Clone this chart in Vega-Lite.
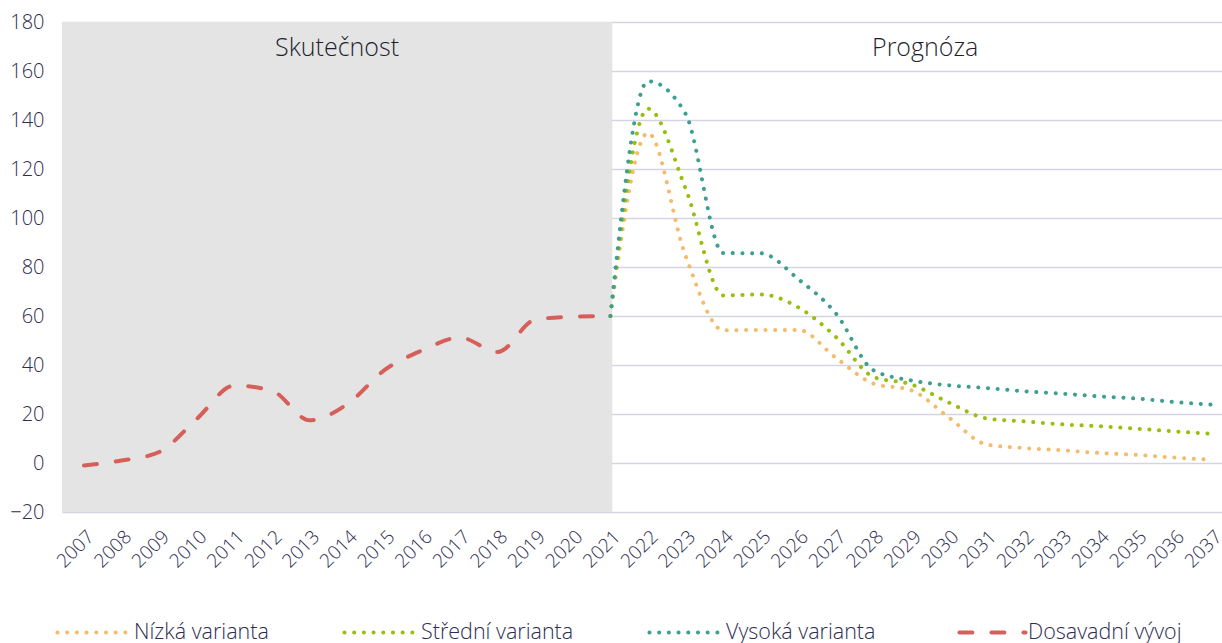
{
  "$schema": "https://vega.github.io/schema/vega-lite/v6.json",
  "width": 1160,
  "height": 490,
  "autosize": {"type": "none"},
  "padding": {"left": 62, "top": 22, "right": 0, "bottom": 131},
  "background": "#ffffff",
  "config": {
    "view": {"stroke": null},
    "font": "Open Sans",
    "axis": {"labelFont": "Open Sans", "labelColor": "#2E2D50", "labelFontWeight": 300, "ticks": false, "domain": false},
    "axisX": {"labelAngle": -45, "labelFontSize": 19, "labelPadding": 15, "grid": false, "labelOverlap": false, "labelFlush": false, "labelBound": false, "tickCount": 60},
    "axisY": {"labelFontSize": 20, "labelPadding": 18, "grid": true, "gridColor": "#D4D4E5", "gridWidth": 1.5, "zindex": 1, "labelOverlap": false, "tickCount": 20}
  },
  "datasets": {
    "series": [
      {"year": 2007, "series": "Dosavadní vývoj", "value": -1},
      {"year": 2008, "series": "Dosavadní vývoj", "value": 1},
      {"year": 2009, "series": "Dosavadní vývoj", "value": 4.5},
      {"year": 2010, "series": "Dosavadní vývoj", "value": 18},
      {"year": 2011, "series": "Dosavadní vývoj", "value": 31.6},
      {"year": 2012, "series": "Dosavadní vývoj", "value": 29.5},
      {"year": 2013, "series": "Dosavadní vývoj", "value": 17.4},
      {"year": 2014, "series": "Dosavadní vývoj", "value": 24},
      {"year": 2015, "series": "Dosavadní vývoj", "value": 38},
      {"year": 2016, "series": "Dosavadní vývoj", "value": 46},
      {"year": 2017, "series": "Dosavadní vývoj", "value": 51.2},
      {"year": 2018, "series": "Dosavadní vývoj", "value": 45.3},
      {"year": 2019, "series": "Dosavadní vývoj", "value": 58.5},
      {"year": 2020, "series": "Dosavadní vývoj", "value": 59.7},
      {"year": 2021, "series": "Dosavadní vývoj", "value": 60},

      {"year": 2021, "series": "Nízká varianta", "value": 60},
      {"year": 2022, "series": "Nízká varianta", "value": 134.7},
      {"year": 2023, "series": "Nízká varianta", "value": 84.5},
      {"year": 2024, "series": "Nízká varianta", "value": 54.2},
      {"year": 2025, "series": "Nízká varianta", "value": 54.3},
      {"year": 2026, "series": "Nízká varianta", "value": 54.3},
      {"year": 2027, "series": "Nízká varianta", "value": 42.9},
      {"year": 2028, "series": "Nízká varianta", "value": 32.4},
      {"year": 2029, "series": "Nízká varianta", "value": 29.7},
      {"year": 2030, "series": "Nízká varianta", "value": 18.6},
      {"year": 2031, "series": "Nízká varianta", "value": 7.6},
      {"year": 2032, "series": "Nízká varianta", "value": 6.1},
      {"year": 2033, "series": "Nízká varianta", "value": 5.2},
      {"year": 2034, "series": "Nízká varianta", "value": 4.1},
      {"year": 2035, "series": "Nízká varianta", "value": 3.3},
      {"year": 2036, "series": "Nízká varianta", "value": 2.2},
      {"year": 2037, "series": "Nízká varianta", "value": 1.3},

      {"year": 2021, "series": "Střední varianta", "value": 60},
      {"year": 2022, "series": "Střední varianta", "value": 144.6},
      {"year": 2023, "series": "Střední varianta", "value": 112},
      {"year": 2024, "series": "Střední varianta", "value": 68.4},
      {"year": 2025, "series": "Střední varianta", "value": 68.8},
      {"year": 2026, "series": "Střední varianta", "value": 63.5},
      {"year": 2027, "series": "Střední varianta", "value": 51.4},
      {"year": 2028, "series": "Střední varianta", "value": 35.1},
      {"year": 2029, "series": "Střední varianta", "value": 32.1},
      {"year": 2030, "series": "Střední varianta", "value": 24.7},
      {"year": 2031, "series": "Střední varianta", "value": 18.2},
      {"year": 2032, "series": "Střední varianta", "value": 17},
      {"year": 2033, "series": "Střední varianta", "value": 15.8},
      {"year": 2034, "series": "Střední varianta", "value": 15},
      {"year": 2035, "series": "Střední varianta", "value": 14},
      {"year": 2036, "series": "Střední varianta", "value": 12.9},
      {"year": 2037, "series": "Střední varianta", "value": 11.9},

      {"year": 2021, "series": "Vysoká varianta", "value": 60},
      {"year": 2022, "series": "Vysoká varianta", "value": 155.8},
      {"year": 2023, "series": "Vysoká varianta", "value": 142.5},
      {"year": 2024, "series": "Vysoká varianta", "value": 85.7},
      {"year": 2025, "series": "Vysoká varianta", "value": 85.6},
      {"year": 2026, "series": "Vysoká varianta", "value": 75},
      {"year": 2027, "series": "Vysoká varianta", "value": 61},
      {"year": 2028, "series": "Vysoká varianta", "value": 37.8},
      {"year": 2029, "series": "Vysoká varianta", "value": 33.7},
      {"year": 2030, "series": "Vysoká varianta", "value": 31.7},
      {"year": 2031, "series": "Vysoká varianta", "value": 30.6},
      {"year": 2032, "series": "Vysoká varianta", "value": 29.3},
      {"year": 2033, "series": "Vysoká varianta", "value": 28.3},
      {"year": 2034, "series": "Vysoká varianta", "value": 27.2},
      {"year": 2035, "series": "Vysoká varianta", "value": 26.3},
      {"year": 2036, "series": "Vysoká varianta", "value": 24.9},
      {"year": 2037, "series": "Vysoká varianta", "value": 23.8}
    ],
    "periods": [
      {"start": 2006.415, "end": 2021.05}
    ],
    "labels": [
      {"year": 2013.73, "value": 169.3, "label": "Skutečnost"},
      {"year": 2029.37, "value": 169.3, "label": "Prognóza"}
    ]
  },
  "layer": [
    {
      "data": {"name": "periods"},
      "mark": {"type": "rect", "color": "#E4E4E4"},
      "encoding": {
        "x": {"field": "start", "type": "quantitative", "scale": {"domain": [2006.415, 2037.266], "nice": false, "zero": false}, "axis": {"title": null}},
        "x2": {"field": "end"}
      }
    },
    {
      "data": {"name": "series"},
      "mark": {"type": "line", "strokeWidth": 4, "strokeCap": "round", "interpolate": "monotone"},
      "encoding": {
        "x": {
          "field": "year", "type": "quantitative",
          "scale": {"domain": [2006.415, 2037.266], "nice": false, "zero": false},
          "axis": {
            "title": null, "format": "d", "tickCount": 60,
            "values": [2007,2008,2009,2010,2011,2012,2013,2014,2015,2016,2017,2018,2019,2020,2021,2022,2023,2024,2025,2026,2027,2028,2029,2030,2031,2032,2033,2034,2035,2036,2037]
          }
        },
        "y": {
          "field": "value", "type": "quantitative",
          "scale": {"domain": [-20, 180], "nice": false, "zero": false},
          "axis": {"title": null, "values": [-20,0,20,40,60,80,100,120,140,160,180]}
        },
        "color": {
          "field": "series", "type": "nominal",
          "scale": {
            "domain": ["Nízká varianta", "Střední varianta", "Vysoká varianta", "Dosavadní vývoj"],
            "range": ["#F3BB6C", "#97BF0D", "#3E9E8F", "#D65F5A"]
          },
          "legend": {
            "title": null, "orient": "none", "direction": "horizontal",
            "legendX": -7, "legendY": 571,
            "symbolType": "stroke", "symbolSize": 5500, "symbolStrokeWidth": 4,
            "labelFontSize": 21.5, "labelColor": "#2E2D50", "labelFont": "Open Sans", "labelFontWeight": 300,
            "labelOffset": 0, "columnPadding": 67,
            "encode": {"symbols": {"update": {
              "strokeCap": {"value": "round"},
              "strokeDashOffset": {"signal": "datum.value === 'Dosavadní vývoj' ? 24 : 0"},
              "stroke": {"signal": "datum.value === 'Dosavadní vývoj' ? '#E0231F' : scale('color', datum.value)"}
            }}}
          }
        },
        "strokeDash": {
          "field": "series", "type": "nominal",
          "scale": {
            "domain": ["Nízká varianta", "Střední varianta", "Vysoká varianta", "Dosavadní vývoj"],
            "range": [[0.1, 9.6], [0.1, 9.6], [0.1, 9.6], [13, 19]]
          },
          "legend": null
        }
      }
    },
    {
      "data": {"name": "labels"},
      "mark": {"type": "text", "fontSize": 25, "fontWeight": 300, "color": "#1F1F2E", "font": "Open Sans"},
      "encoding": {
        "x": {"field": "year", "type": "quantitative", "axis": {"title": null}},
        "y": {"field": "value", "type": "quantitative", "axis": {"title": null}},
        "text": {"field": "label"}
      }
    }
  ]
}
